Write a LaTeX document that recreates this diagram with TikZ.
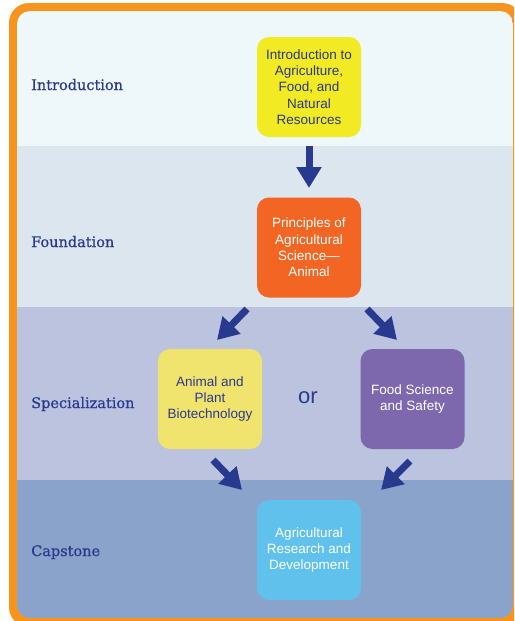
\documentclass[tikz,border=0pt]{standalone}
\usepackage{fontspec}
\setmainfont{Liberation Sans}
\newfontfamily\slabfont[FakeBold=0.7]{DejaVu Serif}
\usetikzlibrary{arrows.meta}
\definecolor{navy}{HTML}{2B3990}
\definecolor{arrowc}{HTML}{283A8F}
\definecolor{frameor}{HTML}{F7941D}
\definecolor{bandA}{HTML}{EEF7F9}
\definecolor{bandB}{HTML}{DCE6EF}
\definecolor{bandC}{HTML}{BBC3DE}
\definecolor{bandD}{HTML}{8AA3CB}
\definecolor{boxyel}{HTML}{F2EA23}
\definecolor{boxorg}{HTML}{F26522}
\definecolor{boxlyel}{HTML}{F0E46E}
\definecolor{boxpur}{HTML}{7D68AE}
\definecolor{boxcyan}{HTML}{5FC1EC}
\begin{document}
\begin{tikzpicture}[x=1pt,y=-1pt,
  box/.style={rounded corners=12pt, minimum width=104pt, minimum height=100pt,
    align=center, inner sep=0pt, font=\fontsize{13.5}{16.3}\selectfont},
  lab/.style={anchor=base west, text=navy, inner sep=0pt, font=\slabfont\fontsize{14.5}{17}\selectfont},
  flow/.style={draw=arrowc, line width=7pt, -{Triangle[width=24pt,length=21pt]}}]
\useasboundingbox (0,0) rectangle (514,621);
\clip (0,0) rectangle (514,621);
\fill[frameor, rounded corners=20pt] (9,3) rectangle (522,627);
\begin{scope}
  \clip[rounded corners=13pt] (17,11) rectangle (513,618);
  \fill[bandA] (17,11) rectangle (513,146);
  \fill[bandB] (17,146) rectangle (513,307);
  \fill[bandC] (17,307) rectangle (513,480);
  \fill[bandD] (17,480) rectangle (513,618);
\end{scope}
% labels
\node[lab] (lintro) at (31,90) {Introduction};
\node[lab] (lfound) at (31,247) {Foundation};
\node[lab] (lspec) at (31,408) {Specialization};
\node[lab] (lcap) at (31,556) {Capstone};
% boxes
\node[box, fill=boxyel, text=navy] (intro) at (309,87)
  {Introduction to\\Agriculture,\\Food, and\\Natural\\Resources};
\node[box, fill=boxorg, text=white] (found) at (309,247.5)
  {Principles of\\Agricultural\\Science---\\Animal};
\node[box, fill=boxlyel, text=navy] (apb) at (210,399)
  {Animal and\\Plant\\Biotechnology};
\node[box, fill=boxpur, text=white] (fss) at (412.5,399)
  {Food Science\\and Safety};
\node[box, fill=boxcyan, text=white] (ard) at (309,550)
  {Agricultural\\Research and\\Development};
\node[text=navy, font=\fontsize{22}{24}\selectfont, inner sep=0pt] (or) at (308,398) {or};
% arrows
\coordinate (a1s) at (309,146); \coordinate (a1e) at (309,188);
\coordinate (a2s) at (247,309); \coordinate (a2e) at (217,340);
\coordinate (a3s) at (367,309); \coordinate (a3e) at (397,340);
\coordinate (a4s) at (213,460); \coordinate (a4e) at (242,490);
\coordinate (a5s) at (410,461); \coordinate (a5e) at (381,490);
\draw[flow] (a1s) -- (a1e);
\draw[flow] (a2s) -- (a2e);
\draw[flow] (a3s) -- (a3e);
\draw[flow] (a4s) -- (a4e);
\draw[flow] (a5s) -- (a5e);
\end{tikzpicture}
\end{document}
